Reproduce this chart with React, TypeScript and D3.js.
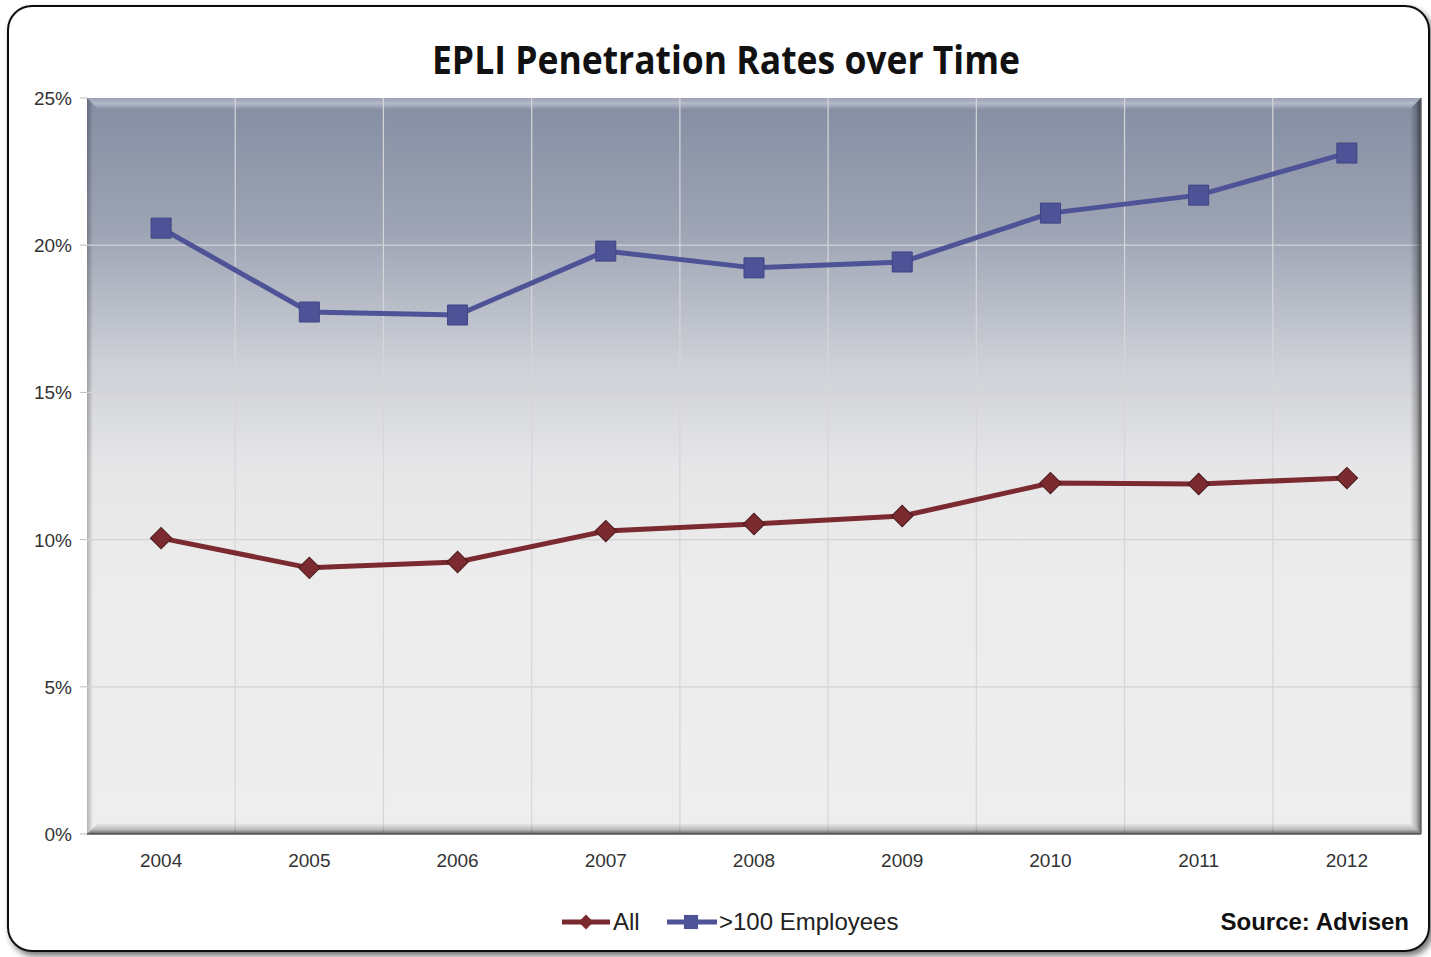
import React from "react";
import * as d3 from "d3";

const years = ["2004", "2005", "2006", "2007", "2008", "2009", "2010", "2011", "2012"];
const allValues = [10.05, 9.04, 9.24, 10.29, 10.53, 10.8, 11.92, 11.89, 12.09];
const bigValues = [20.58, 17.73, 17.63, 19.8, 19.23, 19.43, 21.09, 21.7, 23.13];
const yTicks = [0, 5, 10, 15, 20, 25];
const titleText = "EPLI Penetration Rates over Time";
const sourceText = "Source: Advisen";
const seriesNames = ["All", ">100 Employees"];

const W = 1431;
const H = 957;
const PL = 87, PR = 1421, PT = 98, PB = 834;

export default function App() {
  const x = d3.scaleBand<string>().domain(years).range([PL, PR]).padding(0);
  const y = d3.scaleLinear().domain([0, 25]).range([PB, PT]);
  const cx = (yr: string) => (x(yr) as number) + x.bandwidth() / 2;

  const line = d3
    .line<number>()
    .x((_, i) => cx(years[i]))
    .y((v) => y(v));

  const squareSym = d3.symbol().type(d3.symbolSquare).size(400)() as string;
  const diamondSym = d3.symbol().type(d3.symbolSquare).size(230)() as string;

  const blue = "#4d5396";
  const maroon = "#7b2a2f";
  const axisFont = "'Liberation Sans', Arial, sans-serif";

  const bevel = 11;

  return (
    <svg
      width={W}
      height={H}
      style={{ position: "absolute", left: 0, top: 0, background: "#fff" }}
    >
      <defs>
        <linearGradient id="plotBg" x1="0" y1="0" x2="0" y2="1">
          <stop offset="0" stopColor="#848da2" />
          <stop offset="0.18" stopColor="#9da4b4" />
          <stop offset="0.36" stopColor="#cdd0d7" />
          <stop offset="0.5" stopColor="#e6e6e8" />
          <stop offset="0.65" stopColor="#ececec" />
          <stop offset="1" stopColor="#eeeeee" />
        </linearGradient>
        <linearGradient id="topBevel" x1="0" y1="0" x2="0" y2="1">
          <stop offset="0" stopColor="#9aa0b3" />
          <stop offset="0.5" stopColor="#b4b9c9" />
          <stop offset="1" stopColor="#8d94a8" />
        </linearGradient>
        <linearGradient id="rightBevel" x1="0" y1="0" x2="1" y2="0">
          <stop offset="0" stopColor="#000" stopOpacity="0" />
          <stop offset="0.6" stopColor="#000" stopOpacity="0.25" />
          <stop offset="1" stopColor="#000" stopOpacity="0.6" />
        </linearGradient>
        <linearGradient id="bottomBevel" x1="0" y1="0" x2="0" y2="1">
          <stop offset="0" stopColor="#000" stopOpacity="0" />
          <stop offset="0.6" stopColor="#000" stopOpacity="0.22" />
          <stop offset="1" stopColor="#000" stopOpacity="0.6" />
        </linearGradient>
        <linearGradient id="leftBevel" x1="0" y1="0" x2="1" y2="0">
          <stop offset="0" stopColor="#000" stopOpacity="0.25" />
          <stop offset="1" stopColor="#000" stopOpacity="0" />
        </linearGradient>
        <filter id="frameShadow" x="-5%" y="-5%" width="110%" height="110%">
          <feDropShadow dx="3" dy="4" stdDeviation="3" floodColor="#000" floodOpacity="0.55" />
        </filter>
      </defs>

      {/* outer frame */}
      <rect
        x={8}
        y={6}
        width={1421}
        height={945}
        rx={24}
        ry={24}
        fill="#fff"
        stroke="#111"
        strokeWidth={2}
        filter="url(#frameShadow)"
      />

      {/* title */}
      <text
        x={726}
        y={74}
        textAnchor="middle"
        fontFamily="'Open Sans', 'DejaVu Sans', sans-serif"
        fontWeight={700}
        fontSize={40}
        fill="#111"
        textLength={588}
        lengthAdjust="spacingAndGlyphs"
      >
        {titleText}
      </text>

      {/* plot background */}
      <rect x={PL} y={PT} width={PR - PL} height={PB - PT} fill="url(#plotBg)" />

      {/* bevels */}
      <polygon
        points={`${PL},${PT} ${PR},${PT} ${PR - bevel},${PT + bevel} ${PL + bevel},${PT + bevel}`}
        fill="url(#topBevel)"
      />
      <polygon
        points={`${PL},${PT} ${PL + 6},${PT + 6} ${PL + 6},${PB - 6} ${PL},${PB}`}
        fill="url(#leftBevel)"
      />

      {/* gridlines */}
      {yTicks.slice(1, -1).map((t) => (
        <line
          key={"h" + t}
          x1={PL}
          x2={PR}
          y1={y(t)}
          y2={y(t)}
          stroke="#d3d3d6"
          strokeWidth={1.2}
        />
      ))}
      {years.slice(1).map((yr) => (
        <line
          key={"v" + yr}
          x1={x(yr) as number}
          x2={x(yr) as number}
          y1={PT}
          y2={PB}
          stroke="#d6d6da"
          strokeWidth={1.2}
        />
      ))}

      <polygon
        points={`${PR},${PT} ${PR},${PB} ${PR - bevel},${PB - bevel} ${PR - bevel},${PT + bevel}`}
        fill="url(#rightBevel)"
      />
      <polygon
        points={`${PL},${PB} ${PR},${PB} ${PR - bevel},${PB - bevel} ${PL + bevel},${PB - bevel}`}
        fill="url(#bottomBevel)"
      />
      <line x1={PL} x2={PR} y1={PB} y2={PB} stroke="#555" strokeWidth={1.5} />
      <line x1={PR} x2={PR} y1={PT} y2={PB} stroke="#666" strokeWidth={1.5} />

      {/* y axis ticks and labels */}
      {yTicks.map((t) => (
        <g key={"yt" + t}>
          <line x1={PL - 7} x2={PL} y1={y(t)} y2={y(t)} stroke="#bbb" strokeWidth={1} />
          <text
            x={72}
            y={y(t) + 7}
            textAnchor="end"
            fontFamily={axisFont}
            fontSize={19}
            fill="#333"
          >
            {t + "%"}
          </text>
        </g>
      ))}

      {/* x axis labels */}
      {years.map((yr) => (
        <text
          key={"xl" + yr}
          x={cx(yr)}
          y={867}
          textAnchor="middle"
          fontFamily={axisFont}
          fontSize={19}
          fill="#333"
        >
          {yr}
        </text>
      ))}

      {/* series: >100 Employees */}
      <path d={line(bigValues) as string} fill="none" stroke={blue} strokeWidth={5} />
      {bigValues.map((v, i) => (
        <path
          key={"b" + i}
          d={squareSym}
          transform={`translate(${cx(years[i])},${y(v)})`}
          fill={blue}
          stroke="#3f4585"
          strokeWidth={1}
        />
      ))}

      {/* series: All */}
      <path d={line(allValues) as string} fill="none" stroke={maroon} strokeWidth={5} />
      {allValues.map((v, i) => (
        <path
          key={"a" + i}
          d={diamondSym}
          transform={`translate(${cx(years[i])},${y(v)}) rotate(45)`}
          fill={maroon}
          stroke="#4a1a1d"
          strokeWidth={1}
        />
      ))}

      {/* legend */}
      <g>
        <line x1={562} x2={610} y1={922} y2={922} stroke={maroon} strokeWidth={5} />
        <path d={d3.symbol().type(d3.symbolSquare).size(110)() as string} transform="translate(586,922) rotate(45)" fill={maroon} />
        <text x={613} y={930} fontFamily={axisFont} fontSize={24} fill="#222">
          {seriesNames[0]}
        </text>
        <line x1={667} x2={717} y1={922} y2={922} stroke={blue} strokeWidth={5} />
        <path d={d3.symbol().type(d3.symbolSquare).size(200)() as string} transform="translate(691,922)" fill={blue} />
        <text x={719} y={930} fontFamily={axisFont} fontSize={24} fill="#222">
          {seriesNames[1]}
        </text>
      </g>

      {/* source */}
      <text
        x={1409}
        y={930}
        textAnchor="end"
        fontFamily={axisFont}
        fontWeight={700}
        fontSize={24}
        fill="#111"
      >
        {sourceText}
      </text>
    </svg>
  );
}
